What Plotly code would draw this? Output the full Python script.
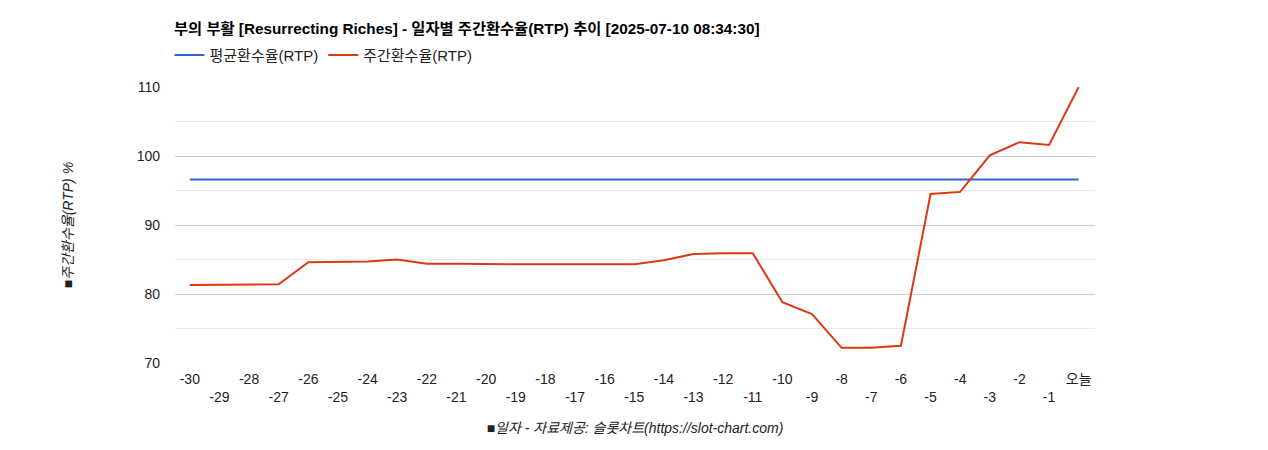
import plotly.graph_objects as go

days = list(range(-30, 1))
tick_labels = [("오늘" if d == 0 else (str(d) if d % 2 == 0 else "<br>" + str(d))) for d in days]
weekly_rtp = [81.3, 81.3, 81.3, 81.4, 84.6, 84.6, 84.7, 85.0, 84.4, 84.4, 84.3, 84.3, 84.3, 84.3, 84.3, 84.3,
              84.9, 85.8, 85.9, 85.9, 78.8, 77.1, 72.2, 72.2, 72.5, 94.5, 94.8, 100.1, 102.0, 101.6, 110.0]
avg_rtp = [96.6] * len(days)

fig = go.Figure()
fig.add_trace(go.Scatter(x=days, y=avg_rtp, mode="lines", name="평균환수율(RTP)",
                         line=dict(color="#3366cc", width=2)))
fig.add_trace(go.Scatter(x=days, y=weekly_rtp, mode="lines", name="주간환수율(RTP)",
                         line=dict(color="#dc3912", width=2)))
fig.update_layout(
    width=1268, height=450, plot_bgcolor="white", paper_bgcolor="white",
    font=dict(family="Arial, Liberation Sans, Noto Sans CJK KR", size=14, color="#222"),
    margin=dict(l=167, r=181, t=79, b=95, autoexpand=False),
    title=dict(text="<b>부의 부활 [Resurrecting Riches] - 일자별 주간환수율(RTP) 추이 [2025-07-10 08:34:30]</b>",
               x=166/1268, xanchor="left", y=0.965, yanchor="top", font=dict(size=15.3, color="#000")),
    legend=dict(orientation="h", x=-0.006, xanchor="left", y=1.175, yanchor="top",
                font=dict(size=15, color="#222"), bgcolor="rgba(0,0,0,0)"),
    showlegend=True,
)
fig.update_xaxes(tickmode="array", tickvals=days, ticktext=tick_labels, range=[-30.5, 0.55],
                 tickangle=0, automargin=False, ticklabelstandoff=6,
                 showgrid=False, zeroline=False, ticks="", tickfont=dict(size=14, color="#222"),
                 title=dict(text="<i>■일자 - 자료제공: 슬롯차트(https://slot-chart.com)</i>", font=dict(size=14, color="#222"), standoff=18))
fig.update_yaxes(range=[70, 110], dtick=10, showgrid=True, gridcolor="#cccccc", zeroline=False,
                 automargin=False,
                 minor=dict(dtick=5, showgrid=True, gridcolor="#ebebeb"),
                 tickfont=dict(size=14, color="#222"), ticks="", ticklabelstandoff=14,
                 title=dict(text="<i>■주간환수율(RTP) %</i>", font=dict(size=14, color="#222"), standoff=59))
fig.write_html("out.html")
